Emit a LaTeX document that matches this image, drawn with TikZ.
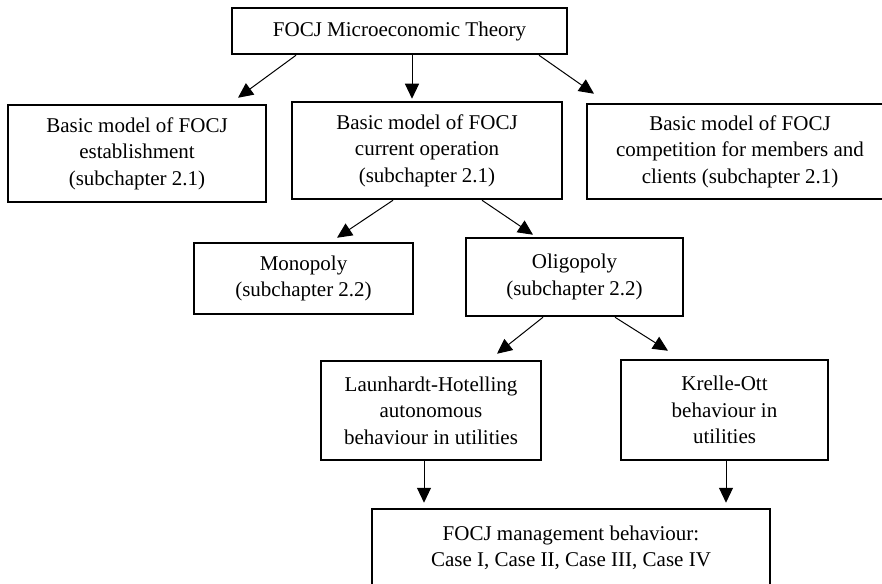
\documentclass[tikz,border=0pt]{standalone}
\usepackage{fontspec}
\setmainfont{Liberation Serif}
\usetikzlibrary{arrows.meta}
\begin{document}
\begin{tikzpicture}[x=1pt,y=-1pt,
  box/.style={draw=black, line width=2.5pt, rectangle, inner sep=0pt, align=center,
    font=\fontsize{21}{26.5}\selectfont},
  arr/.style={draw=black, line width=1pt, -{Triangle[length=15pt,width=14pt]}}]
\clip (0,0) rectangle (882,583);
\fill[white] (0,0) rectangle (882,583);
\node[box, minimum width=335pt, minimum height=46pt] (top) at (399.5,31) {FOCJ Microeconomic Theory};
\node[box, minimum width=258pt, minimum height=97pt] (left) at (137,153.5) {Basic model of FOCJ\\establishment\\(subchapter 2.1)};
\node[box, minimum width=270pt, minimum height=97pt] (mid) at (427,150.5) {Basic model of FOCJ\\current operation\\(subchapter 2.1)};
\node[box, minimum width=306pt, minimum height=95pt] (right) at (740,151.5) {Basic model of FOCJ\\competition for members and\\clients (subchapter 2.1)};
\node[box, minimum width=219pt, minimum height=71pt] (mono) at (303.5,278.5) {Monopoly\\(subchapter 2.2)};
\node[box, minimum width=217pt, minimum height=78pt] (oligo) at (574.5,277) {Oligopoly\\(subchapter 2.2)};
\node[box, minimum width=220pt, minimum height=99pt] (laun) at (431,410.5) {Launhardt-Hotelling\\autonomous\\behaviour in utilities};
\node[box, minimum width=207pt, minimum height=100pt] (krelle) at (724.5,410) {Krelle-Ott\\behaviour in\\utilities};
\node[box, minimum width=398pt, minimum height=78pt] (bottom) at (571,548) {FOCJ management behaviour:\\Case I, Case II, Case III, Case IV};
\draw[arr] ([xshift=-103.5pt]top.south) -- ([xshift=101pt,yshift=6pt]left.north);
\draw[arr] ([xshift=12.5pt]top.south) -- ([xshift=-15pt,yshift=2pt]mid.north);
\draw[arr] ([xshift=139.5pt]top.south) -- ([xshift=-146pt,yshift=9pt]right.north);
\draw[arr] ([xshift=-34pt]mid.south) -- ([xshift=33.5pt,yshift=4pt]mono.north);
\draw[arr] ([xshift=55pt]mid.south) -- ([xshift=-41.5pt,yshift=2pt]oligo.north);
\draw[arr] ([xshift=-31.5pt]oligo.south) -- ([xshift=66pt,yshift=6pt]laun.north);
\draw[arr] ([xshift=40.5pt]oligo.south) -- ([xshift=-56.5pt,yshift=8pt]krelle.north);
\draw[arr] ([xshift=-7pt]laun.south) -- ([xshift=-147pt,yshift=5pt]bottom.north);
\draw[arr] ([xshift=1.5pt]krelle.south) -- ([xshift=155pt,yshift=5pt]bottom.north);
\end{tikzpicture}
\end{document}
